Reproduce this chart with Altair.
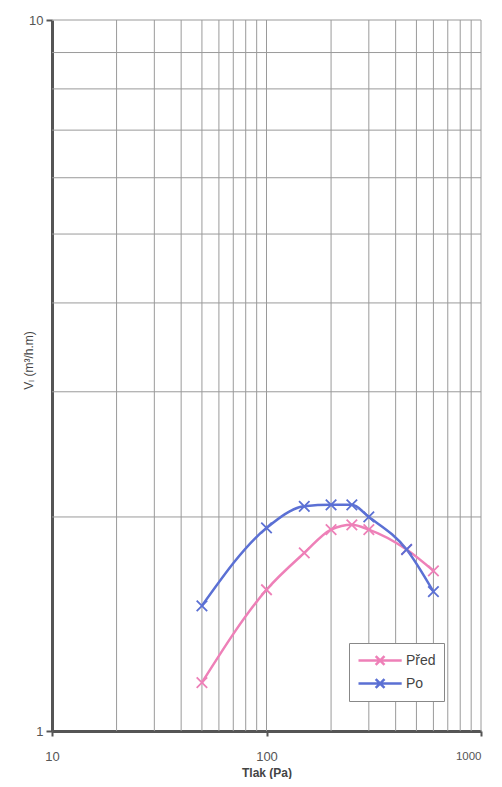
import altair as alt
import pandas as pd

# ---- data ----
pressure = [50, 100, 150, 200, 250, 300, 450, 600]
pred_vals = [1.17, 1.58, 1.78, 1.92, 1.95, 1.92, 1.80, 1.68]
po_vals = [1.50, 1.93, 2.07, 2.08, 2.08, 2.00, 1.80, 1.57]
series = ["Před", "Po"]
colors = ["#ee80b8", "#5b70d4"]

x_labels = [10, 100, 1000]
y_labels = [1, 10]
x_grid = [20, 30, 40, 50, 60, 70, 80, 90, 100,
          200, 300, 400, 500, 600, 700, 800, 900, 1000]
y_grid = [2, 3, 4, 5, 6, 7, 8, 9, 10]

rows = []
for p, a, b in zip(pressure, pred_vals, po_vals):
    rows.append({"p": p, "v": a, "s": series[0]})
    rows.append({"p": p, "v": b, "s": series[1]})
df = pd.DataFrame(rows)
gx = pd.DataFrame({"p": x_grid})
gy = pd.DataFrame({"v": y_grid})

FONT = "Liberation Sans"

x_scale = alt.Scale(type="log", domain=[10, 1000], nice=False)
y_scale = alt.Scale(type="log", domain=[1, 10], nice=False)

x_axis = alt.Axis(values=x_labels, grid=False, format="d", title="Tlak (Pa)",
                  domainColor="#555555", domainWidth=3, tickColor="#555555",
                  tickWidth=2, tickSize=5, labelPadding=14,
                  labelFontSize={"condition": {"test": "datum.value >= 1000", "value": 11.5},
                                 "value": 13},
                  labelAlign={"condition": {"test": "datum.value >= 1000", "value": "right"},
                              "value": "center"},
                  labelColor="#555555", labelFont=FONT, titleFont=FONT,
                  titleFontSize=12, titleFontWeight="bold", titleColor="#444444",
                  titlePadding=4, labelFlush=False)
y_axis = alt.Axis(values=y_labels, grid=False, format="d", title="Vₗ (m³/h.m)",
                  domainColor="#555555", domainWidth=3, tickColor="#555555",
                  tickWidth=2, tickSize=6, labelPadding=3, labelFontSize=13,
                  labelColor="#555555", labelFont=FONT, titleFont=FONT,
                  titleFontSize=12, titleFontWeight="normal", titleColor="#444444",
                  titleX=-24, titleY=340, titleAlign="center", titleBaseline="middle",
                  titleAngle=270)

def X(field):
    return alt.X(f"{field}:Q", scale=x_scale, axis=x_axis)

def Y(field):
    return alt.Y(f"{field}:Q", scale=y_scale, axis=y_axis)

vgrid = alt.Chart(gx).mark_rule(color="#9a9a9a", strokeWidth=1).encode(x=X("p"))
hgrid = alt.Chart(gy).mark_rule(color="#9a9a9a", strokeWidth=1).encode(y=Y("v"))

color = alt.Color("s:N", scale=alt.Scale(domain=series, range=colors),
                  legend=alt.Legend(title=None, orient="none", legendX=297, legendY=623))

lines = alt.Chart(df).mark_line(strokeWidth=2.5, interpolate="monotone").encode(
    x=X("p"), y=Y("v"), color=color, detail="s:N")

points = alt.Chart(df).mark_point(
    shape="M-1,-1L1,1M1,-1L-1,1", size=110, strokeWidth=1.8, filled=False, opacity=1
).encode(
    x=X("p"), y=Y("v"),
    color=alt.Color("s:N", scale=alt.Scale(domain=series, range=colors), legend=None))

chart = alt.layer(vgrid, hgrid, lines, points).properties(
    width=429, height=711,
    autosize=alt.AutoSizeParams(type="none"),
    padding={"left": 44, "top": 12, "right": 13, "bottom": 48},
).configure_view(stroke=None).configure_legend(
    fillColor="white", strokeColor="#888888", padding=8,
    labelFont=FONT, labelFontSize=14, labelColor="#444444",
    symbolType="M-1,0L4.4,0M1.15,-0.55L2.25,0.55M2.25,-0.55L1.15,0.55",
    symbolSize=256, symbolStrokeWidth=2.5, symbolFillColor="transparent",
    rowPadding=4, labelOffset=30,
)

chart.save("out.html", embed_options={"renderer": "svg", "actions": False})
